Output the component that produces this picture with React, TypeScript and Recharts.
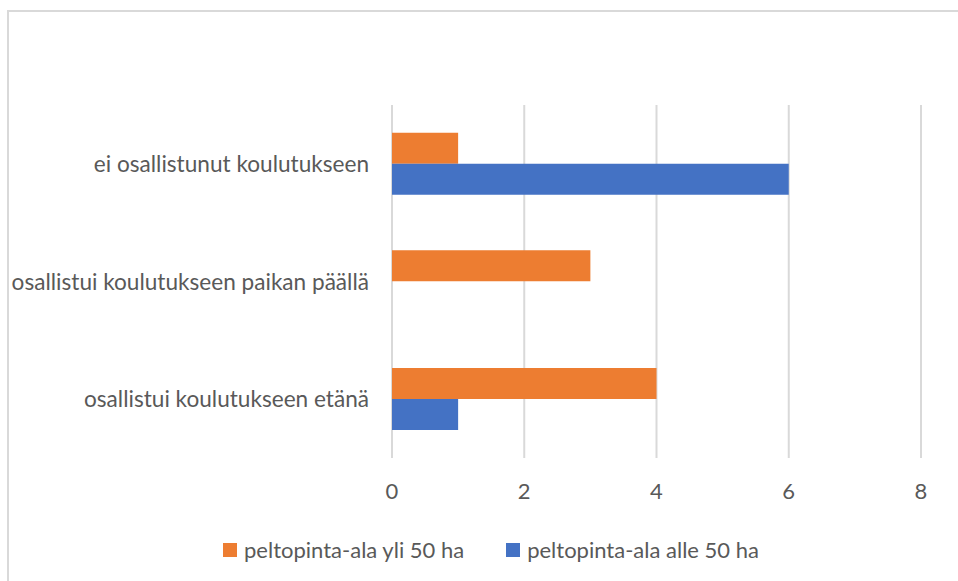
import React from "react";
import { BarChart, Bar, XAxis, YAxis, CartesianGrid } from "recharts";

const categories = [
  "ei osallistunut koulutukseen",
  "osallistui koulutukseen paikan päällä",
  "osallistui koulutukseen etänä",
];
const over50 = [1, 3, 4];
const under50 = [6, 0, 1];
const xTicks = [0, 2, 4, 6, 8];

const seriesNames = ["peltopinta-ala yli 50 ha", "peltopinta-ala alle 50 ha"];
const colors = ["#ED7D31", "#4472C4"];

const data = categories.map((c, i) => ({ name: c, over: over50[i], under: under50[i] }));

const FONT = "Lato, 'Open Sans', sans-serif";
const TEXT = "#595959";
const FS = 22;

const LegendBlock = () => (
  <div
    style={{
      position: "absolute",
      top: 537,
      left: 0,
      width: 958,
      display: "flex",
      justifyContent: "center",
      paddingLeft: 24,
      boxSizing: "border-box",
      fontFamily: FONT,
      fontSize: FS,
      lineHeight: "26px",
      color: TEXT,
    }}
  >
    {seriesNames.map((n, i) => (
      <div key={n} style={{ display: "flex", alignItems: "center", marginRight: i === 0 ? 42 : 0 }}>
        <div style={{ width: 14, height: 14, background: colors[i], marginRight: 7 }} />
        <span>{n}</span>
      </div>
    ))}
  </div>
);

export default function App() {
  return (
    <div style={{ position: "absolute", left: 0, top: 0, width: 958, height: 581, overflow: "hidden", background: "#fff" }}>
      <div style={{ position: "absolute", left: 7, top: 10, width: 980, height: 600, border: "2px solid #d9d9d9", boxSizing: "border-box" }} />
      <div style={{ position: "absolute", left: 0, top: 0 }}>
        <BarChart
          width={958}
          height={581}
          data={data}
          layout="vertical"
          margin={{ top: 105, right: 37, left: 0, bottom: 93 }}
          barCategoryGap="23.5%"
          barGap={0}
        >
          <CartesianGrid horizontal={false} vertical={true} stroke="#d9d9d9" strokeWidth={2} />
          <XAxis
            type="number"
            domain={[0, 8]}
            ticks={xTicks}
            axisLine={false}
            tickLine={false}
            tickSize={0}
            tickMargin={25}
            height={30}
            tick={{ fill: TEXT, fontSize: FS, fontFamily: FONT }}
          />
          <YAxis
            type="category"
            dataKey="name"
            width={392}
            axisLine={false}
            tickLine={false}
            tickSize={0}
            tickMargin={23}
            tick={{ fill: TEXT, fontSize: 22.6, fontFamily: FONT }}
          />
          <Bar dataKey="over" name={seriesNames[0]} fill={colors[0]} isAnimationActive={false} />
          <Bar dataKey="under" name={seriesNames[1]} fill={colors[1]} isAnimationActive={false} />
        </BarChart>
      </div>
      <LegendBlock />
    </div>
  );
}
